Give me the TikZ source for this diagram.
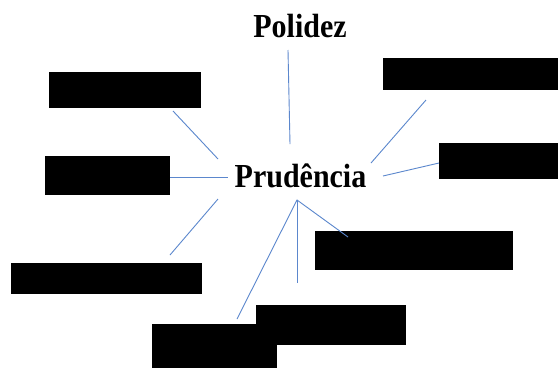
\documentclass[tikz,border=0pt]{standalone}
\usepackage{fontspec}
\setmainfont{Liberation Serif}
\definecolor{linkblue}{RGB}{91,135,205}
\begin{document}
\begin{tikzpicture}[x=1pt,y=-1pt,
  redact/.style={fill=black,draw=none,inner sep=0pt,outer sep=0pt},
  label/.style={anchor=base,inner sep=0pt,font=\fontsize{30}{30}\selectfont\bfseries},
  link/.style={draw=linkblue,line width=0.9pt}]
\useasboundingbox[fill=white] (0,0) rectangle (558,368);
% redacted boxes
\node[redact,minimum width=152pt,minimum height=36pt] (b1) at (125,90) {};
\node[redact,minimum width=125pt,minimum height=39pt] (b2) at (107.5,175.5) {};
\node[redact,minimum width=191pt,minimum height=31pt] (b3) at (106.5,278.5) {};
\node[redact,minimum width=150pt,minimum height=40pt] (b5) at (331,325) {};
\node[redact,minimum width=125pt,minimum height=44pt] (b4) at (214.5,346) {};
\node[redact,minimum width=198pt,minimum height=39pt] (b6) at (414,250.5) {};
\node[redact,minimum width=175pt,minimum height=32pt] (b7) at (470.5,74) {};
\node[redact,minimum width=119pt,minimum height=36pt] (b8) at (498.5,161) {};
% texts
\node[label] (pol) at (300,37) {\scalebox{1}[1.12]{Polidez}};
\node[label] (pru) at (300.5,187) {\scalebox{1}[1.12]{Prudência}};
% connector ends
\coordinate (p1) at (288,50);   \coordinate (p2) at (290,144);
\coordinate (a1) at (173,111);  \coordinate (a2) at (218,159);
\coordinate (c1) at (170,177);  \coordinate (c2) at (228,177);
\coordinate (d1) at (426,100);  \coordinate (d2) at (371,163);
\coordinate (e1) at (439,163);  \coordinate (e2) at (383,176);
\coordinate (f1) at (218,199);  \coordinate (f2) at (170,255);
\coordinate (hub) at (297,200);
\coordinate (g1) at (237,319);
\coordinate (h1) at (297,283);
\coordinate (k1) at (348,237);
% connectors
\draw[link] (p1) -- (p2);
\draw[link] (a1) -- (a2);
\draw[link] (c1) -- (c2);
\draw[link] (d1) -- (d2);
\draw[link] (e1) -- (e2);
\draw[link] (f1) -- (f2);
\draw[link] (g1) -- (hub) -- (k1);
\draw[link] (hub) -- (h1);
\end{tikzpicture}
\end{document}
